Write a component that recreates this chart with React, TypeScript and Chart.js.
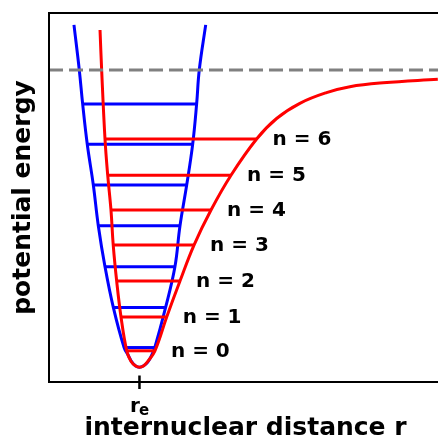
import React, { useEffect, useRef } from 'react';
import { Chart, registerables } from 'chart.js';

Chart.register(...registerables);

// Harmonic potential (blue): r (re = 1) and energy (D = 1)
const blueCurveR = [0.276, 0.335, 0.372, 0.423, 0.490, 0.545, 0.619, 0.711, 0.830, 0.876, 0.917, 0.958, 1.0, 1.046, 1.092, 1.135, 1.170, 1.289, 1.392, 1.448, 1.522, 1.588, 1.632, 1.661, 1.732];
const blueCurveE = [1.152, 1.0, 0.886, 0.750, 0.613, 0.476, 0.338, 0.201, 0.066, 0.040, 0.017, 0.004, 0.0, 0.005, 0.017, 0.040, 0.066, 0.201, 0.338, 0.476, 0.613, 0.750, 0.886, 1.0, 1.152];

// Harmonic levels n = 0..6
const blueLevelE = [0.066, 0.201, 0.338, 0.476, 0.613, 0.750, 0.886];
const blueLevelLeft = [0.830, 0.711, 0.619, 0.545, 0.490, 0.423, 0.372];
const blueLevelRight = [1.170, 1.289, 1.392, 1.448, 1.522, 1.588, 1.632];

// Morse potential (red)
const redCurveR = [0.564, 0.582, 0.619, 0.649, 0.685, 0.710, 0.748, 0.796, 0.859, 0.906, 0.955, 1.0, 1.048, 1.094, 1.171, 1.301, 1.448, 1.603, 1.791, 2.012, 2.295, 2.516, 2.773, 3.068, 3.326, 3.694, 4.298];
const redCurveE = [1.135, 1.0, 0.768, 0.646, 0.529, 0.411, 0.290, 0.169, 0.055, 0.020, 0.005, 0.0, 0.005, 0.020, 0.055, 0.169, 0.290, 0.411, 0.529, 0.646, 0.768, 0.837, 0.888, 0.924, 0.944, 0.957, 0.969];

// Morse levels n = 0..6
const redLevelE = [0.055, 0.169, 0.290, 0.411, 0.529, 0.646, 0.768];
const redLevelLeft = [0.859, 0.796, 0.748, 0.710, 0.685, 0.649, 0.619];
const redLevelRight = [1.171, 1.301, 1.448, 1.603, 1.791, 2.012, 2.295];
const levelLabels = ['n = 0', 'n = 1', 'n = 2', 'n = 3', 'n = 4', 'n = 5', 'n = 6'];

const dissociationE = 1.0;
const rEquilibrium = 1.0;
const xRange = [0, 4.3];
const yRange = [-0.05, 1.192];

const FONT = "'DejaVu Sans', sans-serif";
const BLUE = '#0000ff';
const RED = '#ff0000';

const pts = (xs: number[], ys: number[]) => xs.map((x, i) => ({ x, y: ys[i] }));

const decorations = {
  id: 'decorations',
  afterDraw(chart: any) {
    const { ctx, chartArea: a, scales } = chart;
    const xs = scales.x;
    const ys = scales.y;
    ctx.save();
    // spines: left, top, bottom (right is outside the picture)
    ctx.strokeStyle = '#000';
    ctx.lineWidth = 2;
    ctx.beginPath();
    ctx.moveTo(chart.width + 2, a.top);
    ctx.lineTo(a.left, a.top);
    ctx.lineTo(a.left, a.bottom);
    ctx.lineTo(chart.width + 2, a.bottom);
    ctx.stroke();
    // tick at r_e
    const tx = xs.getPixelForValue(rEquilibrium);
    ctx.lineWidth = 2.5;
    ctx.beginPath();
    ctx.moveTo(tx, a.bottom - 6.5);
    ctx.lineTo(tx, a.bottom + 7);
    ctx.stroke();
    // tick label r_e
    ctx.fillStyle = '#000';
    ctx.textBaseline = 'alphabetic';
    ctx.font = `bold 20px ${FONT}`;
    ctx.textAlign = 'right';
    ctx.fillText('r', tx + 0.5, a.bottom + 29.5);
    ctx.font = `bold 15px ${FONT}`;
    ctx.textAlign = 'left';
    ctx.fillText('e', tx - 0.5, a.bottom + 33);
    // x title
    ctx.font = `bold 25px ${FONT}`;
    ctx.textAlign = 'center';
    ctx.fillText('internuclear distance r', (a.left + chart.width) / 2 + 2, 435);
    // y title
    ctx.save();
    ctx.translate(30, (a.top + a.bottom) / 2);
    ctx.rotate(-Math.PI / 2);
    ctx.textAlign = 'center';
    ctx.fillText('potential energy', 0, 0);
    ctx.restore();
    // level labels
    ctx.font = `bold 20px ${FONT}`;
    ctx.textAlign = 'left';
    levelLabels.forEach((lab, i) => {
      const px = xs.getPixelForValue(redLevelRight[i]) + 16;
      const py = ys.getPixelForValue(redLevelE[i]) + 6;
      ctx.fillText(lab, px, py);
    });
    ctx.restore();
  },
};

export default function App() {
  const ref = useRef<HTMLCanvasElement | null>(null);
  useEffect(() => {
    if (!ref.current) return;
    const lineBase = { pointRadius: 0, borderWidth: 3, fill: false, showLine: true };
    const datasets: any[] = [];
    datasets.push({
      ...lineBase,
      data: pts(blueCurveR, blueCurveE),
      borderColor: BLUE,
      tension: 0.4,
      order: 5,
    });
    blueLevelE.forEach((e, i) => {
      datasets.push({
        ...lineBase,
        data: [{ x: blueLevelLeft[i], y: e }, { x: blueLevelRight[i], y: e }],
        borderColor: BLUE,
        order: 4,
      });
    });
    datasets.push({
      ...lineBase,
      data: pts(redCurveR, redCurveE),
      borderColor: RED,
      tension: 0.4,
      order: 3,
    });
    redLevelE.forEach((e, i) => {
      datasets.push({
        ...lineBase,
        data: [{ x: redLevelLeft[i], y: e }, { x: redLevelRight[i], y: e }],
        borderColor: RED,
        order: 2,
      });
    });
    datasets.push({
      ...lineBase,
      data: [{ x: xRange[0], y: dissociationE }, { x: xRange[1], y: dissociationE }],
      borderColor: '#808080',
      borderDash: [14, 6],
      order: 1,
    });

    const chart = new Chart(ref.current, {
      type: 'line',
      data: { datasets },
      options: {
        responsive: false,
        animation: false,
        devicePixelRatio: 1,
        layout: { padding: { left: 49, top: 13, right: 0, bottom: 54 } },
        scales: {
          x: { type: 'linear', min: xRange[0], max: xRange[1], display: false },
          y: { type: 'linear', min: yRange[0], max: yRange[1], display: false },
        },
        plugins: { legend: { display: false }, tooltip: { enabled: false } },
      },
      plugins: [decorations],
    } as any);
    return () => chart.destroy();
  }, []);
  return (
    <div style={{ position: 'absolute', left: 0, top: 0, width: 438, height: 436, background: '#fff', overflow: 'hidden' }}>
      <canvas ref={ref} width={438} height={436} style={{ display: 'block' }} />
    </div>
  );
}
